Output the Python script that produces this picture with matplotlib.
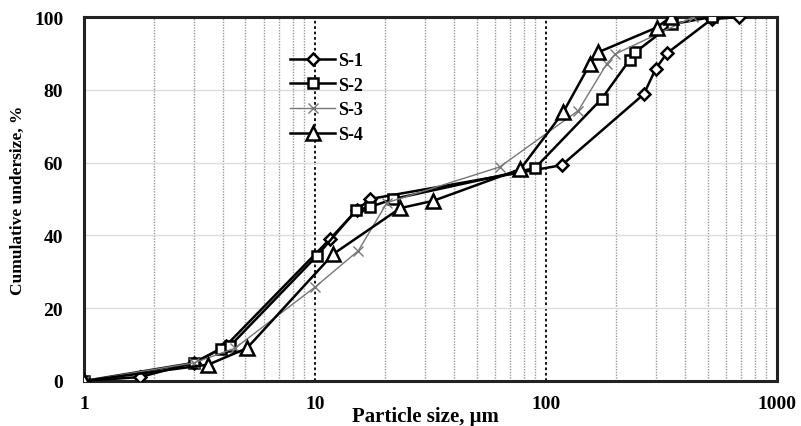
import matplotlib
matplotlib.use("Agg")
import matplotlib.pyplot as plt
from matplotlib.ticker import FixedLocator, NullFormatter

# ============================================================================
# DATA
# ============================================================================

s1_size = [1, 1.75, 3.0, 4.1, 11.6, 15.2, 17.3, 117, 265, 298, 333, 521, 685]
s1_cum = [0, 1.1, 5.0, 9.6, 39.0, 47.0, 50.0, 59.3, 78.8, 85.7, 90.0, 99.4, 100]

s2_size = [1, 3.0, 3.9, 4.3, 10.2, 15.1, 17.3, 21.8, 89.6, 174, 230, 243, 350, 521]
s2_cum = [0, 5.0, 8.8, 9.7, 34.4, 47.0, 47.8, 50.0, 58.5, 77.5, 88.2, 90.3, 98.0, 100]

s3_size = [1, 3.0, 4.5, 10.0, 15.4, 20.5, 63, 138, 183, 199, 434]
s3_cum = [0, 5.0, 9.0, 25.8, 35.8, 49.0, 58.8, 74.3, 87.1, 89.8, 100]

s4_size = [1, 3.45, 5.07, 12.0, 23.4, 32.5, 77.4, 118.6, 155, 168, 301, 347]
s4_cum = [0, 4.5, 9.0, 34.9, 47.5, 49.5, 58.2, 73.8, 87.1, 90.3, 97.1, 100]

x_ticks = [1, 10, 100, 1000]
y_ticks = [0, 20, 40, 60, 80, 100]

# ============================================================================
# PLOT
# ============================================================================

plt.rcParams['font.family'] = ['Liberation Serif', 'DejaVu Serif']
plt.rcParams['font.weight'] = 'bold'

fig = plt.figure(figsize=(8.01, 4.27), dpi=100)
ax = fig.add_axes([0.1049, 0.1054, 0.8652, 0.8524])

ax.set_xscale('log')
ax.set_xlim(1, 1000)
ax.set_ylim(0, 100)

# grid lines
minor_x = [m * d for d in (1, 10, 100) for m in range(2, 10)]
for xv in minor_x:
    ax.axvline(xv, color='#9a9a9a', lw=1.0, ls=(0, (1, 1)), zorder=1)
for xv in (10, 100):
    ax.axvline(xv, color='black', lw=1.3, ls=(0, (1.5, 1.5)), zorder=1)
for yv in (20, 40, 60, 80):
    ax.axhline(yv, color='#dddddd', lw=1.0, zorder=1)

ax.plot(s1_size, s1_cum, color='black', lw=1.8, marker='D', ms=6.5,
        mfc='white', mec='black', mew=1.8, label='S-1', zorder=3)
ax.plot(s2_size, s2_cum, color='black', lw=1.8, marker='s', ms=6.5,
        mfc='white', mec='black', mew=1.8, label='S-2', zorder=3)
ax.plot(s3_size, s3_cum, color='#777777', lw=1.0, marker='x', ms=7,
        mec='#777777', mew=1.0, label='S-3', zorder=3)
ax.plot(s4_size, s4_cum, color='black', lw=1.8, marker='^', ms=10,
        mfc='white', mec='black', mew=1.8, label='S-4', zorder=3)

ax.xaxis.set_major_locator(FixedLocator(x_ticks))
ax.xaxis.set_minor_formatter(NullFormatter())
ax.set_xticks(x_ticks)
ax.set_xticklabels(['1', '10', '100', '1000'])
ax.set_yticks(y_ticks)
ax.tick_params(axis='both', which='both', length=0, labelsize=14)
ax.tick_params(axis='y', pad=15)
ax.tick_params(axis='x', pad=10)

for s in ax.spines.values():
    s.set_linewidth(2.2)
    s.set_color('#222222')

ax.set_xlabel('Particle size, \u03bcm', fontsize=15, fontweight='bold', va='center')
ax.xaxis.set_label_coords(0.492, -0.096)
ax.set_ylabel('Cumulative undersize, %', fontsize=12.5, fontweight='bold', va='center')
ax.yaxis.set_label_coords(-0.095, 0.5)

leg = ax.legend(loc='upper left', bbox_to_anchor=(0.274, 0.948), frameon=False,
                fontsize=13, handlelength=2.5, labelspacing=0.42, handletextpad=0.15)

plt.savefig('out.png', dpi=100)
